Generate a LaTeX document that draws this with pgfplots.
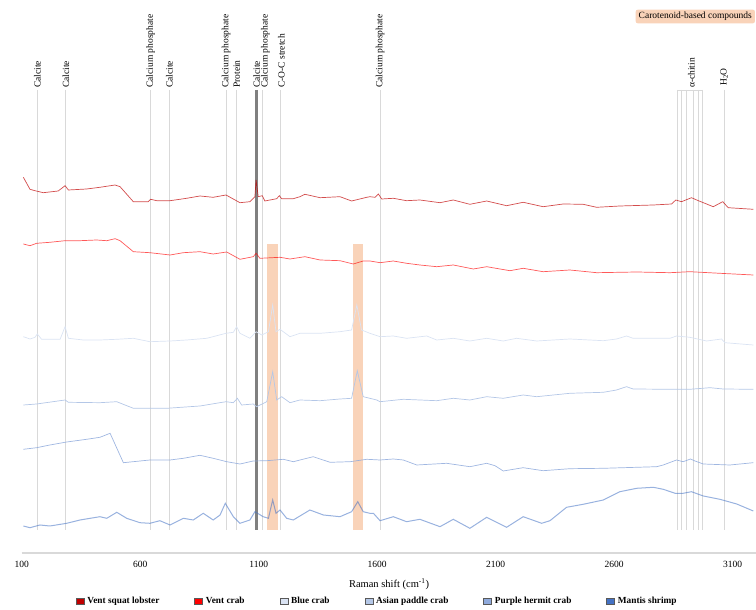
\documentclass[border=0pt]{standalone}
\usepackage{pgfplots}
\pgfplotsset{compat=1.18}
\usepackage{fontspec}
\setmainfont{Liberation Serif}
\definecolor{cSquat}{HTML}{C00000}
\definecolor{cVent}{HTML}{FF0000}
\definecolor{cBlue}{HTML}{DAE3F3}
\definecolor{cAsian}{HTML}{B4C7E7}
\definecolor{cPurple}{HTML}{8FAADC}
\definecolor{cMantis}{HTML}{4472C4}
\definecolor{refline}{HTML}{D9D9D9}
\definecolor{band}{HTML}{F8CBAD}
\pgfplotsset{sq/.style={legend image code/.code={\draw[fill=#1, draw=black!65, line width=0.5pt] (0pt,-3pt) rectangle (8pt,3pt);}}}
\begin{document}
\begin{tikzpicture}
\begin{axis}[
  at={(21.7pt,57pt)}, anchor=south west,
  scale only axis, width=734.7pt, height=553pt,
  xmin=100, xmax=3200, ymin=-553, ymax=0,
  axis x line=bottom, axis y line=none,
  axis line style={-, draw=refline, line width=1.2pt},
  xtick={100,600,1100,1600,2100,2600,3100},
  major tick length=0pt,
  /pgf/number format/assume math mode=true,
  /pgf/number format/1000 sep={},
  xticklabel style={font=\fontsize{9.5}{10}\selectfont, yshift=-5pt},
  xlabel={Raman shift (cm\textsuperscript{-1})},
  xlabel style={font=\fontsize{10.5}{12}\selectfont, yshift=-4pt},
  legend columns=6,
  legend style={draw=none, fill=none, at={(0.484,-0.087)}, anchor=center,
    font=\bfseries\fontsize{9.3}{10}\selectfont,
    /tikz/every even column/.append style={column sep=33pt},
    /tikz/every odd column/.append style={column sep=1pt},
    inner sep=0pt},
  legend cell align=left,
]
% carotenoid bands
\fill[band, opacity=0.85] (axis cs:1136,-244) rectangle (axis cs:1180,-530);
\fill[band, opacity=0.85] (axis cs:1497,-244) rectangle (axis cs:1541,-530);
% reference lines
\pgfplotsinvokeforeach{166,286,644,723,962,1008,1115,1190,1612,2868,2882,2903,2934,2955,2974,3064}{
  \draw[refline, line width=0.8pt] (axis cs:#1,-90) -- (axis cs:#1,-530);
}
\draw[refline, line width=0.8pt] (axis cs:2868,-90) -- (axis cs:2974,-90);
\draw[black!50, line width=3.5pt] (axis cs:1091,-90) -- (axis cs:1091,-530);
% labels
\begin{scope}[every node/.style={rotate=90, anchor=west, inner sep=1pt, font=\fontsize{9.5}{11}\selectfont}]
\node at (axis cs:166,-89) {Calcite};
\node at (axis cs:286,-89) {Calcite};
\node at (axis cs:644,-89) {Calcium phosphate};
\node at (axis cs:723,-89) {Calcite};
\node at (axis cs:962,-89) {Calcium phosphate};
\node at (axis cs:1008,-89) {Protein};
\node at (axis cs:1091,-89) {Calcite};
\node at (axis cs:1128,-89) {Calcium phosphate};
\node at (axis cs:1196,-89) {C-O-C stretch};
\node at (axis cs:1612,-89) {Calcium phosphate};
\node at (axis cs:2926,-89) {α-chitin};
\node at (axis cs:3064,-87) {H\textsubscript{2}O};
\end{scope}
\node[anchor=west, fill=band!85, rounded corners=2pt, inner xsep=3pt, inner ysep=2.5pt,
  font=\fontsize{9.5}{11}\selectfont] at (axis cs:2690,-16.5) {Carotenoid-based compounds};
% legend images
\addlegendimage{sq=cSquat}
\addlegendentry{Vent squat lobster}
\addlegendimage{sq=cVent}
\addlegendentry{Vent crab}
\addlegendimage{sq=cBlue}
\addlegendentry{Blue crab}
\addlegendimage{sq=cAsian}
\addlegendentry{Asian paddle crab}
\addlegendimage{sq=cPurple}
\addlegendentry{Purple hermit crab}
\addlegendimage{sq=cMantis}
\addlegendentry{Mantis shrimp}
% Vent squat lobster
\addplot[cSquat, opacity=0.7, line width=0.7pt, forget plot] coordinates {
(107,-177.3)(135,-189.3)(156,-190.7)(191,-192.7)(254,-191)(283,-185.7)(297,-190)(374,-189)(430,-187.3)(494,-185)(515,-186.7)(571,-201.7)(634,-201.7)(644,-199.3)(670,-200.7)(726,-200.7)(796,-198.3)(852,-196)(908,-197.3)(962,-195)(1021,-202.7)(1063,-201.7)(1084,-196.7)(1089,-180)(1098,-196.7)(1115,-195.7)(1126,-201)(1176,-198.7)(1187,-195.7)(1197,-198.7)(1246,-198.7)(1274,-196.7)(1295,-194.3)(1359,-197.7)(1443,-196.7)(1492,-201)(1556,-197.3)(1569,-196.7)(1591,-197.3)(1605,-194)(1619,-199)(1668,-198.3)(1724,-200.7)(1780,-200)(1865,-202.7)(1921,-200)(1991,-204.3)(2062,-201)(2146,-205.7)(2216,-202.3)(2300,-206.7)(2385,-204)(2469,-204.3)(2526,-207.3)(2624,-206)(2765,-205)(2842,-204)(2860,-200)(2884,-201.7)(2926,-197.7)(2955,-200.7)(3018,-206.7)(3058,-201.7)(3081,-207.7)(3187,-209.3)
};
% Vent crab
\addplot[cVent, opacity=0.65, line width=0.7pt, forget plot] coordinates {
(107,-244)(135,-245.7)(163,-243.3)(219,-242.3)(283,-240.7)(346,-240.7)(416,-240)(459,-240.7)(494,-238.7)(515,-240.7)(571,-251.7)(641,-252.7)(726,-255)(782,-252.7)(852,-251.7)(908,-254)(965,-252)(1021,-259.3)(1077,-256.7)(1089,-253.3)(1105,-258.3)(1190,-257.3)(1232,-259)(1295,-256.7)(1359,-260)(1443,-260.7)(1499,-264)(1541,-261)(1569,-261)(1612,-262.7)(1668,-261)(1724,-263.3)(1780,-265)(1851,-266.7)(1921,-265)(2006,-269)(2062,-266.7)(2160,-270.7)(2216,-268.3)(2300,-271.7)(2413,-270)(2526,-272.7)(2695,-272)(2835,-272.7)(2919,-271.7)(3046,-273.3)(3187,-275)
};
% Blue crab
\addplot[cBlue, line width=0.7pt, forget plot] coordinates {
(107,-336.7)(135,-339)(156,-337.3)(166,-334)(184,-339.3)(262,-339.3)(283,-326.7)(297,-338.3)(360,-340)(430,-340)(501,-339.3)(571,-338.3)(641,-341.7)(726,-341)(796,-340)(881,-338.3)(962,-333.3)(993,-332.3)(1007,-326.7)(1021,-333.3)(1063,-338.3)(1089,-331.7)(1113,-335)(1141,-331.7)(1159,-305)(1173,-331.7)(1190,-329.3)(1232,-336.7)(1274,-333.3)(1359,-333.3)(1443,-331.7)(1492,-330)(1514,-305)(1534,-330)(1569,-333.3)(1612,-336.7)(1668,-336)(1724,-338.3)(1809,-336)(1851,-340)(1921,-338.3)(1991,-341)(2062,-338.3)(2132,-341)(2188,-338.3)(2273,-341)(2413,-339)(2554,-340.7)(2610,-339)(2652,-336)(2680,-338.3)(2835,-338.3)(2863,-336)(2919,-337.3)(2990,-341)(3053,-339)(3067,-342.7)(3187,-345)
};
% Asian paddle crab
\addplot[cAsian, line width=0.7pt, forget plot] coordinates {
(107,-405)(163,-404)(283,-400)(297,-402.3)(430,-402.7)(501,-401.7)(571,-408.3)(712,-408.3)(852,-406)(962,-401.7)(993,-402.7)(1010,-398.3)(1028,-405)(1077,-404)(1091,-406.7)(1134,-401.7)(1159,-371.7)(1176,-400)(1197,-396.7)(1232,-402.7)(1274,-400)(1359,-400.7)(1443,-399)(1492,-398.3)(1516,-370.7)(1541,-396.7)(1569,-398.3)(1598,-400)(1612,-401.7)(1710,-399.3)(1851,-400.7)(1921,-398.3)(1991,-400)(2062,-396.7)(2132,-398.3)(2216,-395)(2273,-396.7)(2413,-393.3)(2554,-392.3)(2610,-390)(2652,-386.7)(2680,-389)(2835,-389.3)(2919,-389.3)(3004,-387.7)(3060,-389)(3187,-389.3)
};
% Purple hermit crab
\addplot[cPurple, opacity=0.85, line width=0.7pt, forget plot] coordinates {
(107,-449.3)(163,-447.7)(219,-445)(290,-442)(374,-439.3)(430,-437.3)(473,-433.3)(529,-462.7)(641,-460)(726,-460)(782,-458.3)(852,-455.3)(908,-458.3)(965,-461.7)(1021,-464)(1077,-461)(1134,-460.7)(1204,-459.3)(1246,-461.7)(1330,-456.7)(1401,-462.3)(1486,-461.7)(1556,-459.3)(1612,-460)(1668,-459)(1710,-460)(1767,-465)(1893,-463.3)(1991,-466.7)(2062,-463.3)(2097,-465.7)(2132,-471)(2216,-467.7)(2300,-470.7)(2413,-468.7)(2554,-468.3)(2779,-466.7)(2807,-465)(2863,-460)(2891,-461.7)(2922,-459)(2941,-461)(2976,-464)(3088,-465)(3187,-462.7)
};
% Mantis shrimp
\addplot[cMantis, opacity=0.55, line width=1pt, forget plot] coordinates {
(107,-526)(135,-527.7)(177,-525)(219,-526)(290,-523.3)(346,-520)(430,-516.7)(459,-518.3)(501,-512.3)(543,-518.3)(599,-522.7)(641,-523.3)(683,-520.7)(726,-525)(782,-518.3)(824,-520)(866,-513.3)(908,-520)(937,-515)(959,-503.3)(993,-516.7)(1021,-523.3)(1063,-520)(1084,-511.7)(1119,-516.7)(1141,-518.3)(1159,-500)(1173,-513.3)(1190,-510)(1218,-518.3)(1246,-520)(1316,-510)(1373,-515)(1443,-516.7)(1492,-511.7)(1518,-501.7)(1541,-511.7)(1569,-513.3)(1584,-513.3)(1612,-520.7)(1668,-516.7)(1724,-521.7)(1780,-519.3)(1865,-526.7)(1921,-519.3)(1991,-528.3)(2062,-517.3)(2146,-527.3)(2216,-516.7)(2294,-523.3)(2329,-520.7)(2399,-507.3)(2469,-504.3)(2554,-500)(2624,-491.7)(2695,-488.3)(2765,-487.3)(2807,-489.3)(2857,-493.3)(2891,-493.3)(2926,-491.7)(2976,-496)(3046,-499.3)(3117,-504)(3187,-511)
};
\end{axis}
\pgfresetboundingbox
\path[use as bounding box] (0,0) rectangle (756pt,610pt);
\end{tikzpicture}
\end{document}
